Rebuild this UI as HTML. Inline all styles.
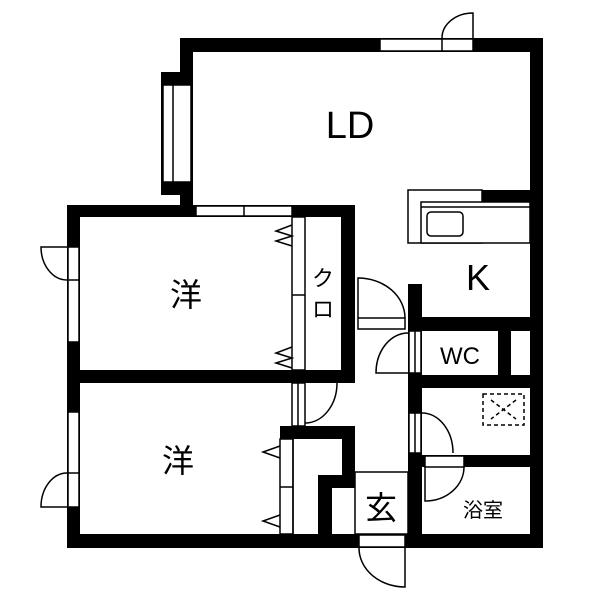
<!DOCTYPE html>
<html><head><meta charset="utf-8"><style>html,body{margin:0;padding:0;background:#fff}svg{display:block}</style></head>
<body>
<svg width="600" height="600" viewBox="0 0 600 600" xmlns="http://www.w3.org/2000/svg">
<g fill="#000">
<rect x="180" y="38" width="363" height="14"/>
<rect x="180" y="38" width="13" height="179"/>
<rect x="161" y="72" width="32" height="123"/>
<rect x="530" y="38" width="13" height="510"/>
<rect x="67" y="205" width="288" height="12"/>
<rect x="67" y="205" width="13" height="343"/>
<rect x="67" y="370" width="288" height="13"/>
<rect x="341" y="205" width="14" height="178"/>
<rect x="280" y="426" width="75" height="13"/>
<rect x="342" y="426" width="13" height="62"/>
<rect x="318" y="475" width="37" height="13"/>
<rect x="318" y="475" width="14" height="73"/>
<rect x="67" y="534" width="476" height="14"/>
<rect x="408" y="284" width="14" height="264"/>
<rect x="408" y="317" width="135" height="14"/>
<rect x="498" y="331" width="13" height="44"/>
<rect x="408" y="375" width="135" height="13"/>
<rect x="422" y="455" width="121" height="12"/>
<rect x="482" y="190" width="48" height="12"/>
</g>
<g fill="#fff" stroke="#000" stroke-width="1.5">
<rect x="380" y="39" width="93" height="12"/>
<rect x="163" y="85" width="28" height="97"/>
<rect x="196" y="206" width="96" height="10"/>
<rect x="68" y="247" width="11" height="95"/>
<rect x="68" y="412" width="11" height="95"/>
<rect x="292" y="217" width="13" height="153"/>
<rect x="292" y="383" width="13" height="43"/>
<rect x="280" y="439" width="13" height="95"/>
<rect x="359" y="535" width="46" height="12"/>
<rect x="358" y="318" width="47" height="11"/>
<rect x="409" y="331" width="12" height="42"/>
<rect x="409" y="413" width="12" height="40"/>
<rect x="425" y="456" width="39" height="11"/>
<rect x="408" y="190" width="74" height="53"/>
<rect x="421" y="202" width="109" height="41"/>
</g>
<g fill="none" stroke="#000" stroke-width="1.5">
<line x1="442" y1="39" x2="442" y2="51"/>
<line x1="173" y1="85" x2="173" y2="182"/>
<line x1="244" y1="206" x2="244" y2="216"/>
<line x1="68" y1="280" x2="79" y2="280"/>
<line x1="68" y1="473" x2="79" y2="473"/>
<line x1="292" y1="295" x2="305" y2="295"/>
<line x1="280" y1="487" x2="293" y2="487"/>
<line x1="298" y1="383" x2="298" y2="426"/>
<line x1="293" y1="439" x2="293" y2="534"/>
<line x1="415" y1="331" x2="415" y2="373"/>
<line x1="415" y1="413" x2="415" y2="453"/>
<line x1="421" y1="207" x2="530" y2="207"/>
<rect x="427" y="212" width="36" height="24" rx="4"/>
<rect x="355" y="472" width="53" height="62"/>
<path d="M473 38 V13 A31 25 0 0 0 442 38"/>
<path d="M67 247 H41 A26 33 0 0 0 67 280"/>
<path d="M67 507 H41 A26 34 0 0 1 67 473"/>
<path d="M305 423 A32 40 0 0 0 337 383"/>
<path d="M358 318 V278 A47 40 0 0 1 405 318"/>
<path d="M409 333 A32 40 0 0 0 376 373 H409"/>
<path d="M422 413 A31 40 0 0 1 453 453"/>
<path d="M425 467 V501 A39 34 0 0 0 464 467"/>
<path d="M405 548 V587 A46 39 0 0 1 359 548"/>
<path d="M292 225 L276 231 L292 236 L276 241 L292 246"/>
<path d="M292 347 L276 353 L292 358 L276 363 L292 368"/>
<path d="M280 446 L263 452 L280 458"/>
<path d="M280 515 L263 521 L280 527"/>
</g>
<g fill="none" stroke="#000" stroke-width="1.5" stroke-dasharray="4,3">
<rect x="483" y="394" width="41" height="31"/>
<line x1="491" y1="400" x2="516" y2="419"/>
<line x1="516" y1="400" x2="491" y2="419"/>
</g>
<g font-family="Liberation Sans, Noto Sans CJK JP, sans-serif" fill="#000" text-anchor="middle">
<text x="350" y="138" font-size="38">LD</text>
<text x="478" y="290" font-size="36">K</text>
<text x="460" y="364" font-size="24">WC</text>
</g>
<g font-family="Noto Sans CJK JP, sans-serif" fill="#000" text-anchor="middle">
<text x="186" y="306" font-size="32">洋</text>
<text x="178" y="472" font-size="32">洋</text>
<text x="323" y="286" font-size="22">ク</text>
<text x="323" y="317" font-size="22">ロ</text>
<text x="381" y="519" font-size="32">玄</text>
<text x="483" y="517" font-size="20">浴室</text>
</g>
</svg>
</body></html>
